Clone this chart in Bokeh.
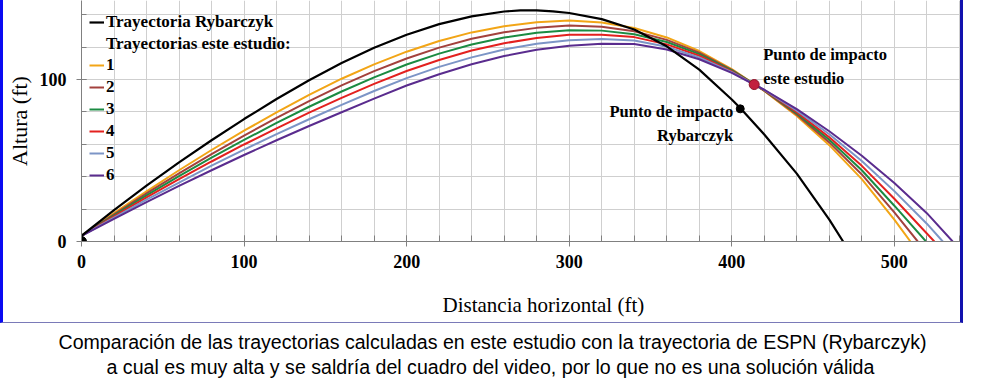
from bokeh.plotting import figure
from bokeh.layouts import column
from bokeh.models import (Range1d, SingleIntervalTicker, Label, Legend, LegendItem, Title)
from bokeh.embed import file_html
from bokeh.resources import INLINE

# ---------------- data ----------------
x_rybarczyk = [0, 20, 40, 60, 80, 100, 120, 140, 160, 180, 200, 220, 240, 260, 270,
               280, 290, 300, 320, 340, 360, 380, 400, 405.2, 420, 440, 460, 468.5]
y_rybarczyk = [3.5, 19.4, 34.5, 48.8, 62.5, 75.6, 88.0, 99.6, 110.2, 119.6, 127.7, 134.2,
               139.0, 142.0, 142.7, 142.7, 142.1, 141.1, 137.3, 130.9, 120.5, 106.1, 87.7,
               82.4, 66.1, 41.9, 13.5, 0]

x_estudio = [0, 20, 40, 60, 80, 100, 120, 140, 160, 180, 200, 220, 240, 260, 280, 300,
             320, 340, 360, 380, 400, 420, 440, 460, 480, 500]

x_1 = x_estudio + [509.9]
y_1 = [3.5, 17.5, 31.0, 44.0, 56.5, 68.4, 79.7, 90.5, 100.5, 109.4, 117.2, 123.8, 129.1,
       132.9, 135.3, 136.4, 135.2, 131.8, 126.0, 117.6, 106.5, 93.0, 77.5, 59.5, 38.5,
       13.5, 0]
x_2 = x_estudio + [514.4]
y_2 = [3.5, 16.8, 29.7, 42.1, 54.0, 65.4, 76.3, 86.7, 96.4, 105.2, 113.0, 119.7, 125.2,
       129.2, 131.9, 133.3, 132.6, 129.8, 124.5, 116.6, 106.0, 93.1, 78.3, 61.2, 41.4,
       18.0, 0]
x_3 = x_estudio + [519.5]
y_3 = [3.5, 16.2, 28.5, 40.3, 51.8, 62.7, 73.2, 83.2, 92.6, 101.3, 109.3, 116.0, 121.6,
       125.9, 128.9, 130.5, 130.2, 128.0, 123.2, 115.7, 105.6, 93.3, 79.1, 62.8, 44.0,
       22.1, 0]
x_4 = x_estudio + [524.6]
y_4 = [3.5, 15.5, 27.2, 38.5, 49.4, 59.9, 69.9, 79.6, 88.7, 97.3, 105.3, 112.1, 117.9,
       122.4, 125.7, 127.6, 127.7, 126.2, 121.7, 114.7, 105.1, 93.4, 79.9, 64.4, 46.7,
       26.4, 0]
x_5 = x_estudio + [520, 529.8]
y_5 = [3.5, 14.8, 25.8, 36.4, 46.8, 56.7, 66.3, 75.5, 84.4, 92.9, 100.9, 107.8, 113.7,
       118.6, 122.1, 124.3, 125.0, 124.1, 120.2, 113.6, 104.6, 93.6, 80.8, 66.2, 49.7,
       31.1, 11.0, 0]
x_6 = x_estudio + [520, 535.9]
y_6 = [3.5, 14.0, 24.3, 34.3, 44.0, 53.4, 62.5, 71.3, 79.8, 88.2, 96.3, 103.3, 109.4,
       114.5, 118.4, 120.9, 122.1, 121.9, 118.5, 112.5, 104.1, 93.7, 81.7, 68.1, 52.9,
       36.1, 17.5, 0]

nombres_estudio = ["1", "2", "3", "4", "5", "6"]
origen_x = [0]
origen_y = [0]
impacto_estudio_x = [413.8]
impacto_estudio_y = [96.9]
impacto_ryb_x = [405.2]
impacto_ryb_y = [81.9]

titulo_x = "Distancia horizontal (ft)"
titulo_y = "Altura (ft)"
leyenda_ryb = "Trayectoria Rybarczyk"
leyenda_est = "Trayectorias este estudio:"
nota_estudio = "Punto de impacto\neste estudio"
nota_ryb = "Punto de impacto\nRybarczyk"
pie_1 = "Comparación de las trayectorias calculadas en este estudio con la trayectoria de ESPN (Rybarczyk)"
pie_2 = "a cual es muy alta y se saldría del cuadro del video, por lo que no es una solución válida"

# ---------------- styling ----------------
SERIF = "Liberation Serif"
SANS = "Liberation Sans"
colores = ["#F2A516", "#A3413D", "#1B8B42", "#E3211F", "#7C95C6", "#5A2C8E"]
GRIS = "#808080"

p = figure(width=963, height=323, x_range=Range1d(0, 540.7), y_range=Range1d(0, 148.8),
           output_backend="svg", toolbar_location=None, title=None,
           min_border_left=77, min_border_right=6, min_border_top=0, min_border_bottom=82)
p.outline_line_color = None
p.styles = {"border-left": "3px solid #0B0BF2", "border-right": "3px solid #1212AE",
            "border-bottom": "1px solid #7A7AB8"}

# grid every 20 ft
p.xgrid.ticker = SingleIntervalTicker(interval=20)
p.ygrid.ticker = SingleIntervalTicker(interval=20)
for g in (p.xgrid, p.ygrid):
    g.grid_line_color = "#cfcfcf"
    g.grid_line_width = 1

# axes
for ax in (p.xaxis, p.yaxis):
    ax.ticker = SingleIntervalTicker(interval=100, num_minor_ticks=5)
    ax.axis_line_color = GRIS
    ax.major_tick_line_color = GRIS
    ax.minor_tick_line_color = GRIS
    ax.major_tick_out = 5
    ax.minor_tick_out = 0
    ax.major_label_text_font = SERIF
    ax.major_label_text_font_style = "bold"
    ax.major_label_text_font_size = "18px"
    ax.major_label_text_color = "black"
p.xaxis.major_tick_in = 6
p.xaxis.minor_tick_in = 6
p.xaxis.major_label_standoff = 8
p.yaxis.major_tick_in = 5
p.yaxis.minor_tick_in = 5
p.yaxis.major_label_standoff = 10
p.yaxis.axis_label = titulo_y
p.yaxis.axis_label_text_font = SERIF
p.yaxis.axis_label_text_font_style = "normal"
p.yaxis.axis_label_text_font_size = "22px"
p.yaxis.axis_label_text_color = "black"
p.yaxis.axis_label_text_line_height = 1.0
p.yaxis.axis_label_standoff = 5

# x title (padding is left, right, top, bottom)
p.add_layout(Title(text=titulo_x, align="left", offset=361, vertical_align="top",
                   standoff=0, padding=(0, 0, 22, 0), text_font=SERIF,
                   text_font_style="normal", text_font_size="21px", text_color="black"),
             "below")

# study trajectories
xs = [x_1, x_2, x_3, x_4, x_5, x_6]
ys = [y_1, y_2, y_3, y_4, y_5, y_6]
r_est = []
for xx, yy, c in zip(xs, ys, colores):
    r_est.append(p.line(xx, yy, line_color=c, line_width=2))

r_ryb = p.line(x_rybarczyk, y_rybarczyk, line_color="black", line_width=2.2)
r_blank = p.line(x=[], y=[], line_alpha=0)

p.scatter(origen_x, origen_y, size=10, color="black")
p.scatter(impacto_ryb_x, impacto_ryb_y, size=8, color="black")
p.scatter(impacto_estudio_x, impacto_estudio_y, size=10, fill_color="#C2203E",
          line_color="#8E1228", line_width=1)

# legends
leg_a = Legend(items=[LegendItem(label=leyenda_ryb, renderers=[r_ryb]),
                      LegendItem(label=leyenda_est, renderers=[r_blank])],
               location=(8, 187))
leg_b = Legend(items=[LegendItem(label=n, renderers=[r]) for n, r in zip(nombres_estudio, r_est)],
               location=(8, 56))
for lg in (leg_a, leg_b):
    lg.padding = 0
    lg.margin = 0
    lg.spacing = 2
    lg.glyph_width = 15
    lg.glyph_height = 20
    lg.label_height = 20
    lg.label_standoff = 2
    lg.label_text_font = SERIF
    lg.label_text_font_style = "bold"
    lg.label_text_font_size = "17px"
    lg.label_text_color = "black"
    lg.border_line_alpha = 0
    lg.background_fill_alpha = 0
    p.add_layout(lg, "center")

# point annotations
p.add_layout(Label(x=impacto_estudio_x[0], y=impacto_estudio_y[0], x_offset=9, y_offset=18,
                   text=nota_estudio, text_font=SERIF, text_font_style="bold",
                   text_font_size="16.5px", text_baseline="middle", text_align="left",
                   text_line_height=1.25, text_color="black"))
p.add_layout(Label(x=impacto_ryb_x[0], y=impacto_ryb_y[0], x_offset=-7, y_offset=-15,
                   text=nota_ryb, text_font=SERIF, text_font_style="bold",
                   text_font_size="16.5px", text_baseline="middle", text_align="right",
                   text_line_height=1.25, text_color="black"))

# caption panel below the framed chart
cap = figure(width=969, height=60, x_range=Range1d(0, 1), y_range=Range1d(0, 1),
             output_backend="svg", toolbar_location=None, title=None,
             x_axis_type=None, y_axis_type=None,
             min_border_left=0, min_border_right=0, min_border_top=0, min_border_bottom=53)
cap.outline_line_color = None
cap.add_layout(Title(text=pie_1, align="left", offset=-20, vertical_align="top", standoff=0,
                     text_font=SANS, text_font_style="normal", text_font_size="19.6px",
                     text_color="black"), "below")
cap.add_layout(Title(text=pie_2, align="left", offset=28, vertical_align="top", standoff=0,
                     padding=(0, 0, 1, 0), text_font=SANS, text_font_style="normal",
                     text_font_size="19.6px", text_color="black"), "below")

layout = column(p, cap, spacing=0)
open("out.html", "w").write(file_html(layout, INLINE))
